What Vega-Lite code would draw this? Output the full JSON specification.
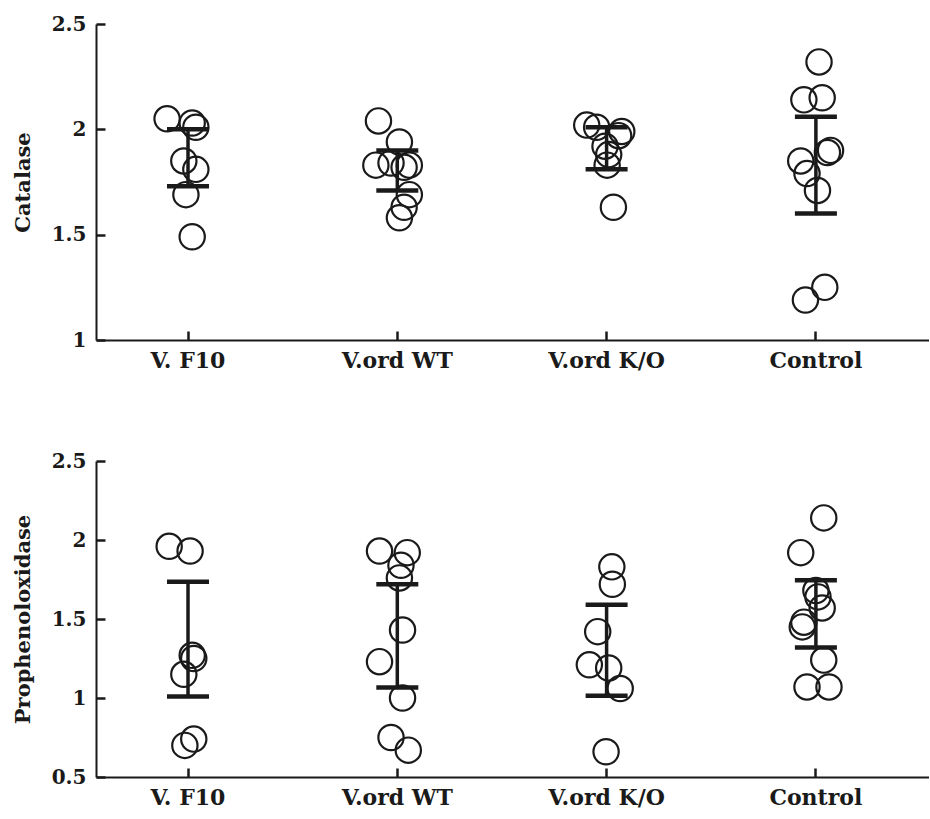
{
  "$schema": "https://vega.github.io/schema/vega-lite/v6.json",
  "background": "white",
  "padding": {"left": 12, "top": 14, "right": 0, "bottom": 0},
  "spacing": 80,
  "config": {
    "view": {"stroke": null},
    "font": "DejaVu Serif",
    "axis": {
      "grid": false,
      "domainColor": "#1a1a1a",
      "domainWidth": 2,
      "tickColor": "#1a1a1a",
      "tickWidth": 2.5,
      "tickSize": -9,
      "labelPadding": 19,
      "labelFont": "DejaVu Serif",
      "labelFontSize": 20,
      "labelFontWeight": "bold",
      "labelColor": "#1a1a1a",
      "titleFont": "DejaVu Serif",
      "titleFontSize": 21,
      "titleFontWeight": "bold",
      "titleColor": "#1a1a1a"
    },
    "axisX": {"labelAngle": 0, "labelFontSize": 22},
    "axisY": {"titlePadding": 18}
  },
  "datasets": {
    "points": [
      {"enzyme": "Catalase", "group": "V. F10", "value": 2.05, "jitter": -0.4},
      {"enzyme": "Catalase", "group": "V. F10", "value": 2.03, "jitter": 0.08},
      {"enzyme": "Catalase", "group": "V. F10", "value": 2.01, "jitter": 0.15},
      {"enzyme": "Catalase", "group": "V. F10", "value": 1.85, "jitter": -0.08},
      {"enzyme": "Catalase", "group": "V. F10", "value": 1.81, "jitter": 0.15},
      {"enzyme": "Catalase", "group": "V. F10", "value": 1.69, "jitter": -0.04},
      {"enzyme": "Catalase", "group": "V. F10", "value": 1.49, "jitter": 0.08},
      {"enzyme": "Catalase", "group": "V.ord WT", "value": 2.04, "jitter": -0.36},
      {"enzyme": "Catalase", "group": "V.ord WT", "value": 1.94, "jitter": 0.04},
      {"enzyme": "Catalase", "group": "V.ord WT", "value": 1.83, "jitter": -0.41},
      {"enzyme": "Catalase", "group": "V.ord WT", "value": 1.84, "jitter": -0.12},
      {"enzyme": "Catalase", "group": "V.ord WT", "value": 1.83, "jitter": 0.23},
      {"enzyme": "Catalase", "group": "V.ord WT", "value": 1.82, "jitter": 0.13},
      {"enzyme": "Catalase", "group": "V.ord WT", "value": 1.69, "jitter": 0.23},
      {"enzyme": "Catalase", "group": "V.ord WT", "value": 1.63, "jitter": 0.13},
      {"enzyme": "Catalase", "group": "V.ord WT", "value": 1.58, "jitter": 0.04},
      {"enzyme": "Catalase", "group": "V.ord K/O", "value": 2.02, "jitter": -0.38},
      {"enzyme": "Catalase", "group": "V.ord K/O", "value": 2.01, "jitter": -0.19},
      {"enzyme": "Catalase", "group": "V.ord K/O", "value": 1.99, "jitter": 0.29},
      {"enzyme": "Catalase", "group": "V.ord K/O", "value": 1.97, "jitter": 0.23},
      {"enzyme": "Catalase", "group": "V.ord K/O", "value": 1.92, "jitter": -0.03},
      {"enzyme": "Catalase", "group": "V.ord K/O", "value": 1.88, "jitter": 0.04},
      {"enzyme": "Catalase", "group": "V.ord K/O", "value": 1.83, "jitter": 0.01},
      {"enzyme": "Catalase", "group": "V.ord K/O", "value": 1.63, "jitter": 0.13},
      {"enzyme": "Catalase", "group": "Control", "value": 2.32, "jitter": 0.06},
      {"enzyme": "Catalase", "group": "Control", "value": 2.14, "jitter": -0.23},
      {"enzyme": "Catalase", "group": "Control", "value": 2.15, "jitter": 0.12},
      {"enzyme": "Catalase", "group": "Control", "value": 1.9, "jitter": 0.28},
      {"enzyme": "Catalase", "group": "Control", "value": 1.89, "jitter": 0.22},
      {"enzyme": "Catalase", "group": "Control", "value": 1.85, "jitter": -0.29},
      {"enzyme": "Catalase", "group": "Control", "value": 1.79, "jitter": -0.17},
      {"enzyme": "Catalase", "group": "Control", "value": 1.71, "jitter": 0.03},
      {"enzyme": "Catalase", "group": "Control", "value": 1.25, "jitter": 0.17},
      {"enzyme": "Catalase", "group": "Control", "value": 1.19, "jitter": -0.2},
      {"enzyme": "Prophenoloxidase", "group": "V. F10", "value": 1.96, "jitter": -0.36},
      {"enzyme": "Prophenoloxidase", "group": "V. F10", "value": 1.93, "jitter": 0.04},
      {"enzyme": "Prophenoloxidase", "group": "V. F10", "value": 1.27, "jitter": 0.08},
      {"enzyme": "Prophenoloxidase", "group": "V. F10", "value": 1.25, "jitter": 0.11},
      {"enzyme": "Prophenoloxidase", "group": "V. F10", "value": 1.15, "jitter": -0.08},
      {"enzyme": "Prophenoloxidase", "group": "V. F10", "value": 0.74, "jitter": 0.11},
      {"enzyme": "Prophenoloxidase", "group": "V. F10", "value": 0.7, "jitter": -0.06},
      {"enzyme": "Prophenoloxidase", "group": "V.ord WT", "value": 1.93, "jitter": -0.34},
      {"enzyme": "Prophenoloxidase", "group": "V.ord WT", "value": 1.92, "jitter": 0.19},
      {"enzyme": "Prophenoloxidase", "group": "V.ord WT", "value": 1.84, "jitter": 0.07},
      {"enzyme": "Prophenoloxidase", "group": "V.ord WT", "value": 1.76, "jitter": 0.04},
      {"enzyme": "Prophenoloxidase", "group": "V.ord WT", "value": 1.43, "jitter": 0.1},
      {"enzyme": "Prophenoloxidase", "group": "V.ord WT", "value": 1.23, "jitter": -0.34},
      {"enzyme": "Prophenoloxidase", "group": "V.ord WT", "value": 1.0, "jitter": 0.1},
      {"enzyme": "Prophenoloxidase", "group": "V.ord WT", "value": 0.75, "jitter": -0.12},
      {"enzyme": "Prophenoloxidase", "group": "V.ord WT", "value": 0.67, "jitter": 0.21},
      {"enzyme": "Prophenoloxidase", "group": "V.ord K/O", "value": 1.83, "jitter": 0.1},
      {"enzyme": "Prophenoloxidase", "group": "V.ord K/O", "value": 1.72, "jitter": 0.11},
      {"enzyme": "Prophenoloxidase", "group": "V.ord K/O", "value": 1.42, "jitter": -0.17},
      {"enzyme": "Prophenoloxidase", "group": "V.ord K/O", "value": 1.21, "jitter": -0.33},
      {"enzyme": "Prophenoloxidase", "group": "V.ord K/O", "value": 1.19, "jitter": 0.04},
      {"enzyme": "Prophenoloxidase", "group": "V.ord K/O", "value": 1.06, "jitter": 0.26},
      {"enzyme": "Prophenoloxidase", "group": "V.ord K/O", "value": 0.66, "jitter": -0.01},
      {"enzyme": "Prophenoloxidase", "group": "Control", "value": 2.14, "jitter": 0.15},
      {"enzyme": "Prophenoloxidase", "group": "Control", "value": 1.92, "jitter": -0.29},
      {"enzyme": "Prophenoloxidase", "group": "Control", "value": 1.68, "jitter": 0.0},
      {"enzyme": "Prophenoloxidase", "group": "Control", "value": 1.64, "jitter": 0.04},
      {"enzyme": "Prophenoloxidase", "group": "Control", "value": 1.57, "jitter": 0.12},
      {"enzyme": "Prophenoloxidase", "group": "Control", "value": 1.48, "jitter": -0.23},
      {"enzyme": "Prophenoloxidase", "group": "Control", "value": 1.45, "jitter": -0.26},
      {"enzyme": "Prophenoloxidase", "group": "Control", "value": 1.24, "jitter": 0.15},
      {"enzyme": "Prophenoloxidase", "group": "Control", "value": 1.07, "jitter": -0.17},
      {"enzyme": "Prophenoloxidase", "group": "Control", "value": 1.07, "jitter": 0.25}
    ],
    "bars": [
      {"enzyme": "Catalase", "group": "V. F10", "lo": 1.73, "hi": 2.0},
      {"enzyme": "Catalase", "group": "V.ord WT", "lo": 1.71, "hi": 1.9},
      {"enzyme": "Catalase", "group": "V.ord K/O", "lo": 1.81, "hi": 2.01},
      {"enzyme": "Catalase", "group": "Control", "lo": 1.6, "hi": 2.06},
      {"enzyme": "Prophenoloxidase", "group": "V. F10", "lo": 1.01, "hi": 1.735},
      {"enzyme": "Prophenoloxidase", "group": "V.ord WT", "lo": 1.067, "hi": 1.72},
      {"enzyme": "Prophenoloxidase", "group": "V.ord K/O", "lo": 1.014, "hi": 1.59},
      {"enzyme": "Prophenoloxidase", "group": "Control", "lo": 1.32, "hi": 1.746}
    ]
  },
  "vconcat": [
    {
      "width": 833,
      "height": 316,
      "layer": [
        {
          "data": {"name": "points"},
          "transform": [{"filter": "datum.enzyme === 'Catalase'"}],
          "mark": {"type": "point", "shape": "circle", "filled": false, "size": 640, "strokeWidth": 2.2, "color": "#1a1a1a", "opacity": 1},
          "encoding": {
            "x": {"field": "group", "type": "nominal", "sort": ["V. F10", "V.ord WT", "V.ord K/O", "Control"], "scale": {"type": "band", "paddingInner": 0.5, "paddingOuter": 0.24, "align": 0.395}, "axis": {"title": null}},
            "xOffset": {"field": "jitter", "type": "quantitative", "scale": {"domain": [-1, 1]}},
            "y": {"field": "value", "type": "quantitative", "scale": {"domain": [1, 2.5], "nice": false, "zero": false}, "axis": {"title": "Catalase", "values": [1, 1.5, 2, 2.5], "format": "~g"}}
          }
        },
        {
          "data": {"name": "bars"},
          "transform": [{"filter": "datum.enzyme === 'Catalase'"}],
          "mark": {"type": "rule", "strokeWidth": 3.5, "color": "#1a1a1a"},
          "encoding": {
            "x": {"field": "group", "type": "nominal", "sort": ["V. F10", "V.ord WT", "V.ord K/O", "Control"], "axis": {"title": null}},
            "y": {"field": "lo", "type": "quantitative", "axis": {"title": "Catalase"}},
            "y2": {"field": "hi"}
          }
        },
        {
          "data": {"name": "bars"},
          "transform": [{"filter": "datum.enzyme === 'Catalase'"}, {"fold": ["lo", "hi"], "as": ["end", "cap"]}],
          "mark": {"type": "tick", "orient": "horizontal", "size": 42, "thickness": 4.5, "color": "#1a1a1a", "opacity": 1},
          "encoding": {
            "x": {"field": "group", "type": "nominal", "sort": ["V. F10", "V.ord WT", "V.ord K/O", "Control"], "axis": {"title": null}},
            "y": {"field": "cap", "type": "quantitative", "axis": {"title": "Catalase"}}
          }
        }
      ]
    },
    {
      "width": 833,
      "height": 316,
      "layer": [
        {
          "data": {"name": "points"},
          "transform": [{"filter": "datum.enzyme === 'Prophenoloxidase'"}],
          "mark": {"type": "point", "shape": "circle", "filled": false, "size": 640, "strokeWidth": 2.2, "color": "#1a1a1a", "opacity": 1},
          "encoding": {
            "x": {"field": "group", "type": "nominal", "sort": ["V. F10", "V.ord WT", "V.ord K/O", "Control"], "scale": {"type": "band", "paddingInner": 0.5, "paddingOuter": 0.24, "align": 0.395}, "axis": {"title": null}},
            "xOffset": {"field": "jitter", "type": "quantitative", "scale": {"domain": [-1, 1]}},
            "y": {"field": "value", "type": "quantitative", "scale": {"domain": [0.5, 2.5], "nice": false, "zero": false}, "axis": {"title": "Prophenoloxidase", "values": [0.5, 1, 1.5, 2, 2.5], "format": "~g"}}
          }
        },
        {
          "data": {"name": "bars"},
          "transform": [{"filter": "datum.enzyme === 'Prophenoloxidase'"}],
          "mark": {"type": "rule", "strokeWidth": 3.5, "color": "#1a1a1a"},
          "encoding": {
            "x": {"field": "group", "type": "nominal", "sort": ["V. F10", "V.ord WT", "V.ord K/O", "Control"], "axis": {"title": null}},
            "y": {"field": "lo", "type": "quantitative", "axis": {"title": "Prophenoloxidase"}},
            "y2": {"field": "hi"}
          }
        },
        {
          "data": {"name": "bars"},
          "transform": [{"filter": "datum.enzyme === 'Prophenoloxidase'"}, {"fold": ["lo", "hi"], "as": ["end", "cap"]}],
          "mark": {"type": "tick", "orient": "horizontal", "size": 42, "thickness": 4.5, "color": "#1a1a1a", "opacity": 1},
          "encoding": {
            "x": {"field": "group", "type": "nominal", "sort": ["V. F10", "V.ord WT", "V.ord K/O", "Control"], "axis": {"title": null}},
            "y": {"field": "cap", "type": "quantitative", "axis": {"title": "Prophenoloxidase"}}
          }
        }
      ]
    }
  ]
}
